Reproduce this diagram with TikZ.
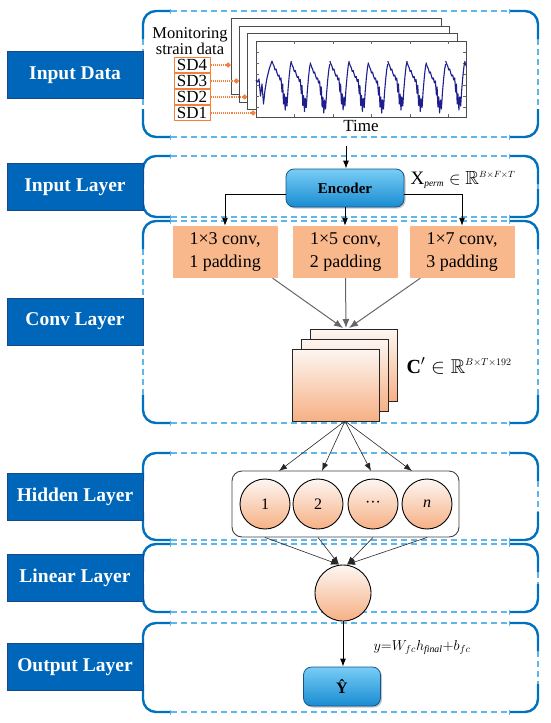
\documentclass[tikz,border=0pt]{standalone}
\usepackage{amsmath, amssymb}
\usepackage{fontspec}
\setmainfont{Liberation Serif}
\usepackage{tikz}
\usetikzlibrary{arrows.meta, calc, positioning, shadows}
\definecolor{lblblue}{RGB}{0,102,185}
\definecolor{lbledge}{RGB}{22,72,140}
\definecolor{brkblue}{RGB}{0,112,192}
\definecolor{dashblue}{RGB}{95,182,235}
\definecolor{peach}{RGB}{249,184,140}
\definecolor{fmtop}{RGB}{253,246,242}
\definecolor{fmbot}{RGB}{246,176,132}
\definecolor{enctop}{RGB}{120,205,245}
\definecolor{encbot}{RGB}{25,140,210}
\definecolor{encedge}{RGB}{20,85,140}
\definecolor{sdorange}{RGB}{244,128,60}
\definecolor{signal}{RGB}{30,30,140}
\newcommand{\layerframe}[2]{% top y, bottom y
  \draw[sep] (170,#1) -- (510,#1);
  \draw[sep] (170,#2) -- (510,#2);
  \draw[sepv] (143,#1+28) -- (143,#2-28);
  \draw[sepv] (538,#1+28) -- (538,#2-28);
  \draw[brk] (170,#1) -- (143,#1) -- (143,#1+28);
  \draw[brk] (143,#2-28) -- (143,#2) -- (170,#2);
  \draw[brk] (510,#1) -- (538,#1) -- (538,#1+28);
  \draw[brk] (538,#2-28) -- (538,#2) -- (510,#2);
}
\tikzset{
  lbl/.style    ={draw=lbledge, fill=lblblue, text=white, minimum width=136pt, minimum height=47pt, inner sep=0pt, font=\fontsize{19.5}{20}\selectfont\bfseries},
  brk/.style    ={brkblue, line width=2.4pt, rounded corners=13pt},
  sep/.style    ={dashblue, line width=1.1pt, dash pattern=on 6pt off 4pt, {Bar[width=5pt]}-{Bar[width=5pt]}},
  sepv/.style   ={dashblue, line width=1.1pt, dash pattern=on 6pt off 4pt},
  plotfr/.style ={draw=black!70, fill=white, line width=0.9pt, minimum width=210pt, minimum height=76pt, inner sep=0pt},
  sig/.style    ={signal, line width=1.1pt, line join=round},
  tick/.style   ={black!60, line width=0.5pt},
  sdbox/.style  ={draw=sdorange, fill=white, line width=0.9pt, minimum width=36pt, minimum height=14.5pt, inner sep=0pt, font=\fontsize{17}{17}\selectfont},
  sdlink/.style ={sdorange, densely dotted, line width=1.1pt, -{Circle[length=5pt]}},
  encbox/.style ={draw=encedge, line width=0.8pt, rounded corners=8pt, top color=enctop, bottom color=encbot, minimum width=118pt, minimum height=38pt, inner sep=0pt, font=\fontsize{15}{15}\selectfont\bfseries, drop shadow={shadow xshift=1.5pt, shadow yshift=-1.5pt, opacity=0.45}},
  convbox/.style={fill=peach, minimum width=105pt, minimum height=52pt, inner sep=0pt, align=center, font=\fontsize{18}{23}\selectfont},
  fmap/.style   ={draw=black!85, line width=1pt, top color=fmtop, bottom color=fmbot, minimum width=87pt, minimum height=72pt, inner sep=0pt},
  hidbox/.style ={draw=black!75, line width=0.9pt, fill=white, rounded corners=10pt, minimum width=227pt, minimum height=66pt, inner sep=0pt},
  neuron/.style ={draw=black, circle, line width=0.9pt, top color=fmtop, bottom color=fmbot, minimum size=50pt, inner sep=0pt, font=\fontsize{16}{16}\selectfont},
  arr/.style    ={-{Latex[length=8pt, width=6pt]}, line width=0.9pt, black},
  garr/.style   ={-{Latex[length=9pt, width=7pt]}, line width=1pt, black!60},
  tarr/.style   ={-{Latex[length=8pt, width=6pt]}, line width=0.6pt, black!85},
}
\begin{document}
\begin{tikzpicture}[x=1pt, y=-1pt]
  \useasboundingbox (0,0) rectangle (550,723);

  % layer frames
  \layerframe{11}{137}
  \layerframe{156}{217}
  \layerframe{221}{423}
  \layerframe{453}{540}
  \layerframe{544}{612}
  \layerframe{623}{712}

  % layer labels
  \node[lbl] (ldata) at (75,75)    {Input Data};
  \node[lbl] (linp)  at (75,187)   {Input Layer};
  \node[lbl] (lconv) at (75,321.5) {Conv Layer};
  \node[lbl] (lhid)  at (75,496.5) {Hidden Layer};
  \node[lbl] (llin)  at (75,578)   {Linear Layer};
  \node[lbl] (lout)  at (75,667)   {Output Layer};

  % INPUT DATA: stacked strain records
  \foreach \k/\nm in {0/pf4, 1/pf3, 2/pf2, 3/pf1}
    \node[plotfr] (\nm) at ({336+8.33*\k},{56.5+7.5*\k}) {};
  \foreach \t in {52,63,74,85,96,107} {
    \draw[tick] (256,\t) -- (259,\t);
    \draw[tick] (466,\t) -- (463,\t);
  }
  \foreach \t in {294.5,333,371.5,410,448.5} {
    \draw[tick] (\t,117) -- (\t,114);
    \draw[tick] (\t,41) -- (\t,44);
  }
  \begin{scope}
    \clip (pf1.south west) rectangle (pf1.north east);
    \draw[sig] (256,80) -- (257.5,82) -- (259,79) -- (260.5,96) -- (262,84) -- (263.5,104)
      -- (265,90) -- (267,78) -- (269.5,68) -- (272,61);
    \foreach \k in {0,...,10}
      \draw[sig, xshift=\k*19.3pt, yshift={-1.5pt*mod(\k,3)}] (272,61) -- (273,64) -- (274,66)
        -- (275,70) -- (276,69) -- (277,73) -- (278,76) -- (279,75) -- (280,80) -- (281,78)
        -- (282,92) -- (282.7,84) -- (283.5,104) -- (284.3,94) -- (285.2,110) -- (286,97)
        -- (287,106) -- (288,90) -- (289.2,76) -- (290.3,66) -- (291.3,61);
  \end{scope}
  \node[align=center, font=\fontsize{16.5}{16}\selectfont] (mon) at (190,41) {Monitoring\\strain data};
  \node[sdbox] (sd4) at (192,65)  {SD4};
  \node[sdbox] (sd3) at (192,81)  {SD3};
  \node[sdbox] (sd2) at (192,97)  {SD2};
  \node[sdbox] (sd1) at (192,113) {SD1};
  \foreach \s/\p in {sd4/pf4, sd3/pf3, sd2/pf2, sd1/pf1}
    \draw[sdlink] (\s.east) -- (\s.east -| \p.west);
  \node[anchor=base, font=\fontsize{17}{17}\selectfont] (time) at (361,131) {Time};

  % INPUT LAYER
  \coordinate (tin) at (346,146);
  \node[encbox] (enc) at (345,188) {Encoder};
  \draw[arr] (tin) -- (tin |- enc.north);
  \node[anchor=base west] (xperm) at (407,184)
    {\fontsize{19}{19}\selectfont X$_{\scriptscriptstyle\mathit{perm}}\in\mathbb{R}^{\scriptscriptstyle B\times F\times T}$};

  % CONV LAYER
  \node[convbox] (cv1) at (225,252)   {1×3 conv,\\1 padding};
  \node[convbox] (cv2) at (345.5,252) {1×5 conv,\\2 padding};
  \node[convbox] (cv3) at (462,252)   {1×7 conv,\\3 padding};
  \draw[arr] ([yshift=-6pt]enc.west) -| (cv1.north);
  \draw[arr] (enc.south) -- (enc.south |- cv2.north);
  \draw[arr] ([yshift=-6pt]enc.east) -| (cv3.north);
  \node[fmap] (fm3) at (353.5,365.5) {};
  \node[fmap] (fm2) at (344.5,375)   {};
  \node[fmap] (fm1) at (335.5,385)   {};
  \coordinate (sin) at (346,328);
  \draw[garr] ([xshift=-5pt]cv1.south east) -- ([xshift=-3pt]sin);
  \draw[garr] (cv2.south) -- (sin);
  \draw[garr] ([xshift=11pt]cv3.south west) -- ([xshift=3pt]sin);
  \node[anchor=base west] (cdim) at (403,373)
    {\fontsize{20}{20}\selectfont\textbf{C}$'\in\mathbb{R}^{\scriptscriptstyle B\times T\times 192}$};

  % HIDDEN LAYER
  \coordinate (sout) at (345,421);
  \node[hidbox] (hid) at (345.5,504) {};
  \node[neuron] (h1) at (265,504) {1};
  \node[neuron] (h2) at (318,504) {2};
  \node[neuron] (h3) at (373,504) {···};
  \node[neuron] (hn) at (427,504) {\textit{n}};
  \foreach \i/\x in {1/279, 2/322, 3/371, 4/412}
    \coordinate (t\i) at (\x,471);
  \foreach \i in {1,...,4}
    \draw[tarr] (sout) -- (t\i);

  % LINEAR LAYER
  \node[neuron, minimum size=56pt] (lin) at (343,593) {};
  \draw[tarr] (h1.south |- hid.south) -- ([xshift=-4pt]lin.north);
  \draw[tarr] (h2.south |- hid.south) -- ([xshift=-4pt]lin.north);
  \draw[tarr] (h3.south |- hid.south) -- ([xshift=4pt]lin.north);
  \draw[tarr] (hn.south |- hid.south) -- ([xshift=4pt]lin.north);

  % OUTPUT LAYER
  \node[encbox, minimum width=77pt, minimum height=39pt, font=\fontsize{16}{16}\selectfont\bfseries] (yhat) at (342,686.5) {\^{Y}};
  \draw[arr] (lin.south) -- (lin.south |- yhat.north);
  \node[anchor=base west] (fceq) at (370,650)
    {\fontsize{14}{14}\selectfont$y{=}W_{fc}h_{\mathit{final}}{+}b_{fc}$};
\end{tikzpicture}
\end{document}
